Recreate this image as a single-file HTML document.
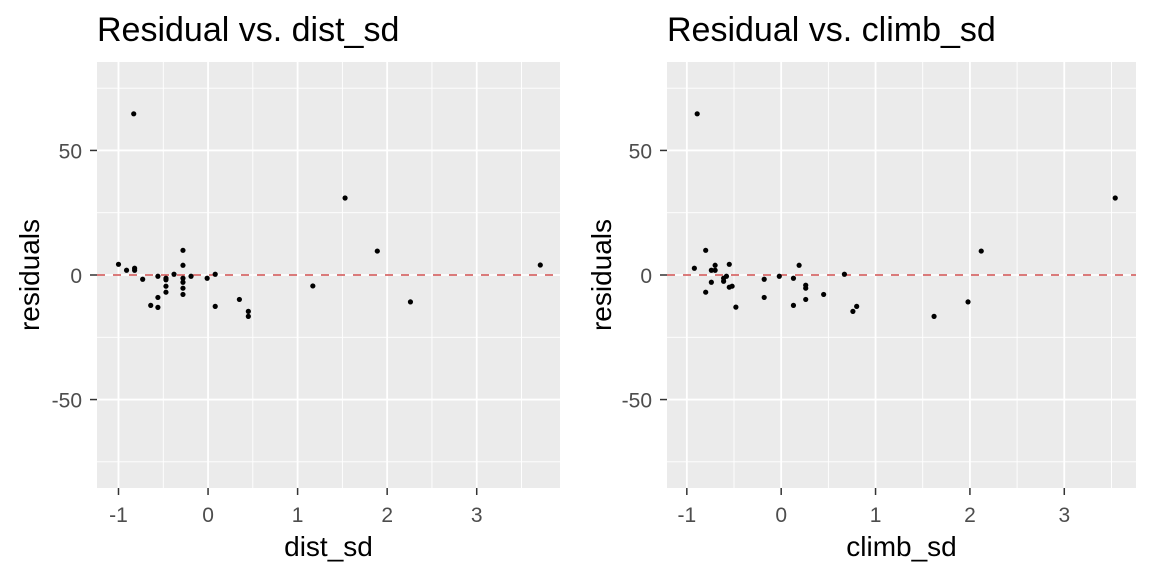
<!DOCTYPE html>
<html><head><meta charset="utf-8"><style>
body{margin:0;background:#fff;}
svg{display:block;font-family:"Liberation Sans",Arial,sans-serif;}
</style></head><body>
<svg id="chart" width="1152" height="576"></svg>
<script>
const p1x=[-1.00,-0.91,-0.82,-0.82,-0.73,-0.56,-0.64,-0.56,-0.56,-0.47,-0.47,-0.47,-0.47,-0.38,-0.28,-0.28,-0.28,-0.28,-0.28,-0.28,-0.19,-0.01,0.08,0.08,0.35,0.45,0.45,-0.83,1.17,1.53,1.89,2.26,3.71];
const p1y=[4.3,1.9,2.7,1.9,-1.7,-0.5,-12.2,-9.0,-13.0,-1.3,-1.9,-4.5,-6.9,0.3,9.9,3.9,-1.3,-2.9,-5.3,-7.8,-0.5,-1.3,0.3,-12.6,-9.8,-14.6,-16.6,64.7,-4.4,30.9,9.6,-10.8,4.0];
const p2x=[-0.80,-0.92,-0.70,-0.55,-0.74,-0.70,-0.74,-0.80,-0.61,-0.61,-0.58,-0.55,-0.52,-0.48,-0.18,-0.18,-0.02,0.13,0.19,0.13,0.26,0.26,0.26,0.45,0.67,0.80,0.76,-0.89,1.62,1.98,2.12,3.54];
const p2y=[9.9,2.7,3.9,4.3,1.9,1.9,-2.9,-6.9,-1.3,-2.5,-0.5,-4.9,-4.5,-12.9,-1.7,-9.0,-0.5,-1.3,3.9,-12.2,-4.1,-5.3,-9.8,-7.8,0.3,-12.6,-14.6,64.7,-16.6,-10.8,9.6,30.9];
const xTicks=[-1,0,1,2,3];
const yTicks=[-50,0,50];
const NS='http://www.w3.org/2000/svg';
const svg=document.getElementById('chart');
function mk(tag,attrs,parent){const e=document.createElementNS(NS,tag);for(const k in attrs)e.setAttribute(k,attrs[k]);(parent||svg).appendChild(e);return e;}
function panel(id,L,R,xmin,xmax,xs,ys,title,xlab,ylabX){
  const T=62,B=488,ymin=-85.5,ymax=85.5;
  const sx=v=>L+(v-xmin)/(xmax-xmin)*(R-L);
  const sy=v=>B-(v-ymin)/(ymax-ymin)*(B-T);
  const g=mk('g',{});
  
  
  const bg=mk('rect',{x:L,y:T,width:R-L,height:B-T,fill:'#ebebeb'},g);
  
  
  for(let v=-75;v<=75;v+=50) mk('line',{x1:L,x2:R,y1:sy(v),y2:sy(v),stroke:'#fff','stroke-width':0.9},g);
  for(let v=-1.5;v<=xmax;v+=1) if(v>xmin) mk('line',{x1:sx(v),x2:sx(v),y1:T,y2:B,stroke:'#fff','stroke-width':0.9},g);
  yTicks.forEach(v=>{mk('line',{x1:L,x2:R,y1:sy(v),y2:sy(v),stroke:'#fff','stroke-width':1.8},g);
    mk('line',{x1:L-7,x2:L,y1:sy(v),y2:sy(v),stroke:'#333','stroke-width':1.5},g);
    const t=mk('text',{x:L-15,y:sy(v)+8,'text-anchor':'end','font-size':21,fill:'#4d4d4d'},g);t.textContent=v;
    
    });
  xTicks.forEach(v=>{mk('line',{x1:sx(v),x2:sx(v),y1:T,y2:B,stroke:'#fff','stroke-width':1.8},g);
    mk('line',{x1:sx(v),x2:sx(v),y1:B,y2:B+7,stroke:'#333','stroke-width':1.5},g);
    const t=mk('text',{x:sx(v),y:522,'text-anchor':'middle','font-size':21,fill:'#4d4d4d'},g);t.textContent=v;
    
    });
  const ref=mk('line',{x1:L,x2:R,y1:sy(0),y2:sy(0),stroke:'#d05050','stroke-width':1.5,'stroke-dasharray':'8,8'},g);
  
  
  xs.forEach((x,i)=>{const c=mk('circle',{cx:sx(x),cy:sy(ys[i]),r:2.6,fill:'#000'},g);
    
    });
  const tt=mk('text',{x:L,y:41,'font-size':34,fill:'#000'},g);tt.textContent=title;
  
  
  const xl=mk('text',{x:(L+R)/2,y:556,'text-anchor':'middle','font-size':28,fill:'#000'},g);xl.textContent=xlab;
  
  
  const yl=mk('text',{x:0,y:0,'text-anchor':'middle','font-size':28,fill:'#000',transform:`translate(${ylabX},${(T+B)/2}) rotate(-90)`},g);yl.textContent='residuals';
  
  
}
panel('panel-dist',97,560,-1.24,3.93,p1x,p1y,'Residual vs. dist_sd','dist_sd',39);
panel('panel-climb',667,1136,-1.21,3.76,p2x,p2y,'Residual vs. climb_sd','climb_sd',611);
</script>
</body></html>
